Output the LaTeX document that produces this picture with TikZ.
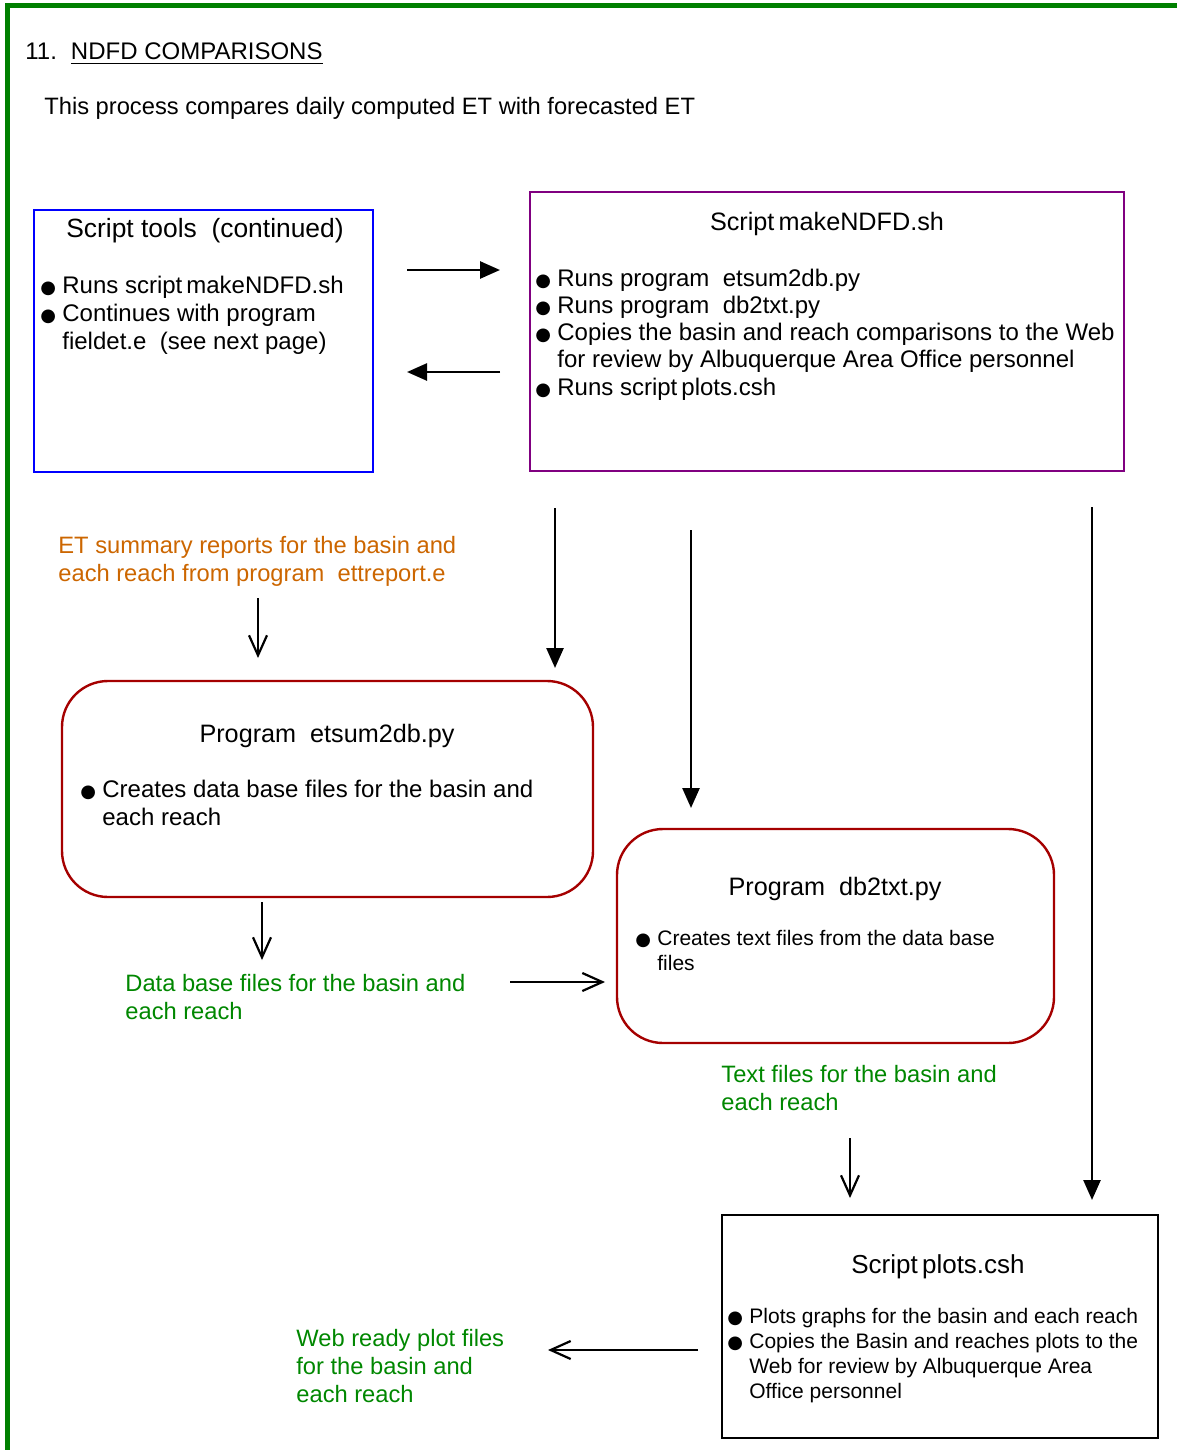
\documentclass[tikz,border=0pt]{standalone}
\usepackage{fontspec}
\setmainfont{Liberation Sans}
\newfontfamily\symfont{DejaVu Sans}
\usetikzlibrary{arrows.meta}

\definecolor{framegreen}{RGB}{0,128,0}
\definecolor{toolsblue}{RGB}{0,0,255}
\definecolor{makepurple}{RGB}{128,0,128}
\definecolor{progred}{RGB}{165,0,0}
\definecolor{reportorange}{RGB}{204,102,0}
\definecolor{filegreen}{RGB}{0,135,0}

\newcommand{\bul}{\makebox[11pt][l]{\symfont\fontsize{9}{9}\selectfont ●}}
\newcommand{\bulgap}{\hspace*{11pt}}

\begin{document}
\begin{tikzpicture}[
        x=0.5pt, y=-0.5pt,
        every node/.style={inner sep=0pt, font=\fontsize{12}{14}\selectfont},
        boxtitle/.style={anchor=base, font=\fontsize{12.6}{14}\selectfont},
        bullets/.style={anchor=base west, align=left},
        filelabel/.style={anchor=base west, align=left, text=filegreen, font=\fontsize{11.85}{14}\selectfont},
        fillarrow/.style={-{Triangle[length=10pt,width=8.5pt]}, line width=1.3pt},
        openarrow/.style={-{Straight Barb[length=10pt,width=9pt]}, line width=1.1pt}
    ]
    \useasboundingbox (0,0) rectangle (1177,1450);

    % page frame
    \draw[framegreen, line width=2.5pt] (7.5,1450) -- (7.5,6) -- (1177,6);

    \node[anchor=base west] (heading) at (25,60) {11.\hspace{7pt}\underline{NDFD COMPARISONS}};
    \node[anchor=base west, font=\fontsize{11.85}{14}\selectfont] (intro) at (44,115) {This process compares daily computed ET with forecasted ET};

    % script tools (multi-line nodes sit on the baseline of their last line)
    \node[draw=toolsblue, line width=1pt, minimum width=169.5pt, minimum height=131pt] (tools) at (203.5,341) {};
    \node[boxtitle, font=\fontsize{13.2}{14}\selectfont] (toolsT) at (205,237) {Script tools\ \ (continued)};
    \node[bullets] (toolsL) at (40,349) {\bul Runs script\,makeNDFD.sh\\
        \bul Continues with program\\
        \bulgap fieldet.e\ \ (see next page)};

    % script makeNDFD.sh
    \node[draw=makepurple, line width=1.2pt, minimum width=297pt, minimum height=139.5pt] (make) at (827,331.5) {};
    \node[boxtitle] (makeT) at (827,230) {Script\,makeNDFD.sh};
    \node[bullets, font=\fontsize{12}{13.6}\selectfont] (makeL) at (535,395) {\bul Runs program\ \ etsum2db.py\\
        \bul Runs program\ \ db2txt.py\\
        \bul Copies the basin and reach comparisons to the Web\\
        \bulgap for review by Albuquerque Area Office personnel\\
        \bul Runs script\,plots.csh};

    \coordinate (toolsOut) at (407,270);
    \coordinate (makeIn) at (500,270);
    \coordinate (makeOut) at (500,372);
    \coordinate (toolsIn) at (407,372);
    \draw[fillarrow] (toolsOut) -- (makeIn);
    \draw[fillarrow] (makeOut) -- (toolsIn);

    % ET summary reports
    \node[anchor=base west, align=left, text=reportorange, font=\fontsize{11.85}{14}\selectfont] (reports) at (58,581) {ET summary reports for the basin and\\
        each reach from program\ \ ettreport.e};

    % program etsum2db.py
    \node[draw=progred, line width=1.2pt, rounded corners=23pt, minimum width=265.5pt, minimum height=108pt] (etsum) at (327.5,789) {};
    \node[boxtitle] (etsumT) at (327,742) {Program\ \ etsum2db.py};
    \node[bullets] (etsumL) at (80,825) {\bul Creates data base files for the basin and\\
        \bulgap each reach};

    \coordinate (reportsOut) at (258,598);
    \coordinate (etsumIn) at (258,658);
    \coordinate (makeToEtsum) at (555,508);
    \coordinate (etsumTop) at (555,668);
    \draw[openarrow] (reportsOut) -- (etsumIn);
    \draw[fillarrow] (makeToEtsum) -- (etsumTop);

    % data base files
    \node[filelabel] (dbfiles) at (125,1019) {Data base files for the basin and\\
        each reach};
    \coordinate (etsumOut) at (262,902);
    \coordinate (dbfilesIn) at (262,960);
    \draw[openarrow] (etsumOut) -- (dbfilesIn);

    % program db2txt.py
    \node[draw=progred, line width=1.2pt, rounded corners=23pt, minimum width=218.5pt, minimum height=107pt] (dbtxt) at (835.5,936) {};
    \node[boxtitle] (dbtxtT) at (835,895) {Program\ \ db2txt.py};
    \node[bullets, font=\fontsize{10.5}{12.5}\selectfont] (dbtxtL) at (635,970) {\bul Creates text files from the data base\\
        \bulgap files};

    \coordinate (dbfilesOut) at (510,982);
    \coordinate (dbtxtIn) at (605,982);
    \coordinate (makeToDbtxt) at (691,530);
    \coordinate (dbtxtTop) at (691,808);
    \draw[openarrow] (dbfilesOut) -- (dbtxtIn);
    \draw[fillarrow] (makeToDbtxt) -- (dbtxtTop);

    % text files
    \node[filelabel] (txtfiles) at (721,1110) {Text files for the basin and\\
        each reach};

    % script plots.csh
    \node[draw, line width=1.1pt, minimum width=218pt, minimum height=111.5pt] (plots) at (940,1326.5) {};
    \node[boxtitle, font=\fontsize{13}{14}\selectfont] (plotsT) at (938,1273) {Script\,plots.csh};
    \node[bullets, font=\fontsize{10.5}{12.35}\selectfont] (plotsL) at (727,1398) {\bul Plots graphs for the basin and each reach\\
        \bul Copies the Basin and reaches plots to the\\
        \bulgap Web for review by Albuquerque Area\\
        \bulgap Office personnel};

    \coordinate (txtfilesOut) at (850,1138);
    \coordinate (plotsIn) at (850,1198);
    \coordinate (makeToPlots) at (1092,507);
    \coordinate (plotsTop) at (1092,1200);
    \draw[openarrow] (txtfilesOut) -- (plotsIn);
    \draw[fillarrow] (makeToPlots) -- (plotsTop);

    % web ready plot files
    \node[filelabel] (webfiles) at (296,1402) {Web ready plot files\\
        for the basin and\\
        each reach};
    \coordinate (plotsOut) at (698,1350);
    \coordinate (webfilesIn) at (548,1350);
    \draw[openarrow] (plotsOut) -- (webfilesIn);
\end{tikzpicture}
\end{document}
